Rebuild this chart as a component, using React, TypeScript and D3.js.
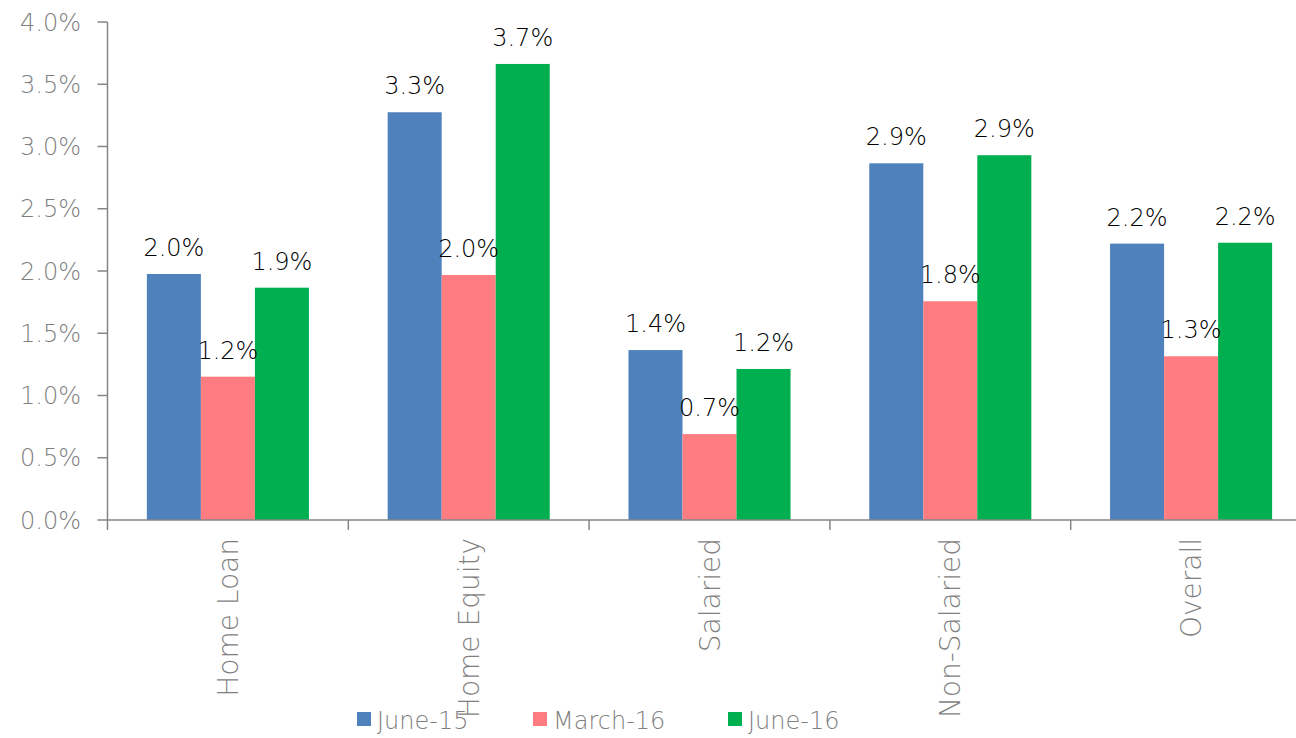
import React from 'react';
import * as d3 from 'd3';

const categories = ['Home Loan', 'Home Equity', 'Salaried', 'Non-Salaried', 'Overall'];
const seriesNames = ['June-15', 'March-16', 'June-16'];
const june15 = [1.976, 3.275, 1.365, 2.865, 2.22];
const march16 = [1.151, 1.968, 0.69, 1.757, 1.315];
const june16 = [1.866, 3.663, 1.213, 2.93, 2.227];
const labels15 = ['2.0%', '3.3%', '1.4%', '2.9%', '2.2%'];
const labelsM16 = ['1.2%', '2.0%', '0.7%', '1.8%', '1.3%'];
const labels16 = ['1.9%', '3.7%', '1.2%', '2.9%', '2.2%'];
const yTicks = [0, 0.5, 1, 1.5, 2, 2.5, 3, 3.5, 4];

const colors = ['#4F81BD', '#FF7C80', '#00B050'];
const W = 1296;
const H = 738;
const font = '"DejaVu Sans", sans-serif';
const gray = '#7f7f7f';
const axisColor = '#868686';

export default function App() {
  const values = [june15, march16, june16];
  const texts = [labels15, labelsM16, labels16];

  const x0 = d3.scaleBand<string>()
    .domain(categories)
    .range([107.5, 1311.5])
    .paddingInner(0.327)
    .paddingOuter(0.1635);
  const x1 = d3.scaleBand<string>()
    .domain(seriesNames)
    .range([0, x0.bandwidth()]);
  const y = d3.scaleLinear().domain([0, 4]).range([520, 22]);
  const step = x0.step();
  const left = 107.5;

  return (
    <div style={{ position: 'absolute', left: 0, top: 0 }}>
      <svg width={W} height={H} style={{ display: 'block', background: '#fff' }}>
        {/* bars */}
        {seriesNames.map((s, si) => (
          <g key={s}>
            {categories.map((c, ci) => (
              <rect
                key={c}
                x={(x0(c) ?? 0) + (x1(s) ?? 0)}
                y={y(values[si][ci])}
                width={x1.bandwidth()}
                height={y(0) - y(values[si][ci])}
                fill={colors[si]}
              />
            ))}
          </g>
        ))}

        {/* y axis */}
        <line x1={left} x2={left} y1={y(4)} y2={y(0)} stroke={axisColor} strokeWidth={1.5} />
        {yTicks.map(t => (
          <g key={t}>
            <line x1={left - 10} x2={left} y1={y(t)} y2={y(t)} stroke={axisColor} strokeWidth={1.5} />
            <text x={81} y={y(t)} dy="0.36em" textAnchor="end" fontFamily={font} fontWeight={200}
              fontSize={24} fill={gray}>
              {t.toFixed(1)}%
            </text>
          </g>
        ))}

        {/* x axis */}
        <line x1={left} x2={W} y1={y(0)} y2={y(0)} stroke={axisColor} strokeWidth={1.5} />
        {categories.map((c, i) => (
          <line key={c} x1={left + step * i} x2={left + step * i} y1={y(0)} y2={y(0) + 10}
            stroke={axisColor} strokeWidth={1.5} />
        ))}

        {/* data labels */}
        {seriesNames.map((s, si) => (
          <g key={s}>
            {categories.map((c, ci) => (
              <text
                key={c}
                x={(x0(c) ?? 0) + (x1(s) ?? 0) + x1.bandwidth() / 2}
                y={y(values[si][ci]) - 18}
                textAnchor="middle"
                fontFamily={font}
                fontWeight={200}
                fontSize={24}
                fill="#000"
              >
                {texts[si][ci]}
              </text>
            ))}
          </g>
        ))}

        {/* category labels */}
        {categories.map(c => (
          <text
            key={c}
            transform={`translate(${(x0(c) ?? 0) + x0.bandwidth() / 2}, 538) rotate(-90)`}
            textAnchor="end"
            dy="0.36em"
            fontFamily={font}
            fontWeight={200}
            fontSize={28}
            fill={gray}
          >
            {c}
          </text>
        ))}

        {/* legend */}
        {seriesNames.map((s, i) => {
          const lx = [357, 533, 728][i];
          return (
            <g key={s}>
              <rect x={lx} y={712} width={14} height={14} fill={colors[i]} />
              <text x={lx + 20} y={729} fontFamily={font} fontWeight={200} fontSize={24} fill={gray}>{s}</text>
            </g>
          );
        })}
      </svg>
    </div>
  );
}
